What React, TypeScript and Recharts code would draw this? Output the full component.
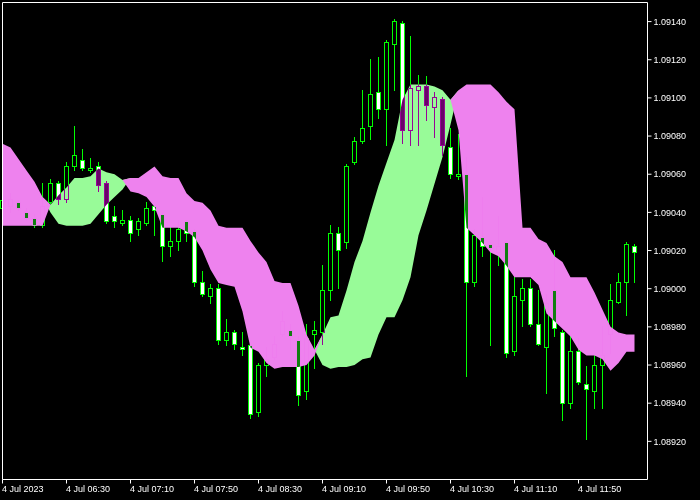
import React from 'react';
import { ComposedChart, Area, Bar, XAxis, YAxis, ReferenceLine } from 'recharts';

const timeLabels = ['4 Jul 2023', '4 Jul 06:30', '4 Jul 07:10', '4 Jul 07:50', '4 Jul 08:30', '4 Jul 09:10', '4 Jul 09:50', '4 Jul 10:30', '4 Jul 11:10', '4 Jul 11:50'];
const labelBars = [0, 8, 16, 24, 32, 40, 48, 56, 64, 72];
const priceTicks = [1.0892, 1.0894, 1.0896, 1.0898, 1.09, 1.0902, 1.0904, 1.0906, 1.0908, 1.091, 1.0912, 1.0914];

const opens = [
  1.09042, 1.09043, 1.09045, 1.0904, 1.09037, 1.09033, 1.09045, 1.09055, 1.09047, 1.09064,
  1.09067, 1.09062, 1.09064, 1.09055, 1.09038, 1.09034, 1.09036, 1.09031, 1.09034, 1.09043,
  1.09039, 1.09022, 1.09025, 1.09035, 1.0903, 1.09003, 1.08996, 1.09, 1.08973, 1.08977,
  1.08969, 1.0897, 1.08935, 1.0896, 1.08964, 1.08976, 1.08978, 1.08973, 1.08946, 1.08976,
  1.08977, 1.08999, 1.09029, 1.09024, 1.09066, 1.09077, 1.09085, 1.09103, 1.09094, 1.09128,
  1.09139, 1.09083, 1.09104, 1.09106, 1.09095, 1.09099, 1.09074, 1.09059, 1.0906, 1.09003,
  1.09027, 1.09023, 1.09019, 1.09024, 1.08967, 1.08994, 1.09, 1.08981, 1.08969, 1.08999,
  1.08977, 1.0894, 1.08967, 1.0895, 1.08946, 1.0896, 1.08976, 1.08993, 1.09003, 1.09022,
];
const highs = [
  1.09048, 1.0905, 1.09046, 1.09042, 1.09039, 1.09055, 1.09057, 1.09056, 1.09066, 1.09085,
  1.09073, 1.09068, 1.09066, 1.09056, 1.09043, 1.09041, 1.09038, 1.09037, 1.09045, 1.09044,
  1.0904, 1.09032, 1.09036, 1.09036, 1.09031, 1.09009, 1.09002, 1.09002, 1.08984, 1.08978,
  1.08977, 1.08971, 1.08961, 1.08969, 1.08975, 1.08988, 1.08981, 1.08975, 1.08981, 1.08983,
  1.09012, 1.09033, 1.09032, 1.09065, 1.09079, 1.09104, 1.0912, 1.09121, 1.0913, 1.09141,
  1.0914, 1.09132, 1.09112, 1.09111, 1.09103, 1.091, 1.09084, 1.09081, 1.09069, 1.09031,
  1.09048, 1.09024, 1.09038, 1.09025, 1.09006, 1.09005, 1.09005, 1.08999, 1.08997, 1.0902,
  1.08978, 1.08976, 1.08974, 1.08959, 1.08965, 1.0898, 1.09002, 1.09008, 1.09024, 1.09023,
];
const lows = [
  1.0904, 1.0904, 1.09041, 1.09036, 1.09032, 1.09032, 1.09044, 1.09044, 1.09045, 1.09062,
  1.09062, 1.09061, 1.09051, 1.09034, 1.09032, 1.09033, 1.09025, 1.09028, 1.09033, 1.09028,
  1.09014, 1.09017, 1.0902, 1.09025, 1.09001, 1.08996, 1.08992, 1.08971, 1.0897, 1.08968,
  1.08965, 1.08932, 1.08933, 1.08954, 1.08963, 1.08975, 1.08968, 1.08939, 1.08942, 1.08958,
  1.08971, 1.08994, 1.09, 1.09021, 1.09065, 1.09076, 1.09078, 1.09089, 1.09075, 1.09104,
  1.09076, 1.09075, 1.09075, 1.09088, 1.09079, 1.0907, 1.09058, 1.09057, 1.08954, 1.09001,
  1.09017, 1.0897, 1.09012, 1.08964, 1.08965, 1.0898, 1.0898, 1.0897, 1.08945, 1.08975,
  1.08931, 1.08937, 1.0895, 1.08921, 1.08937, 1.08937, 1.08966, 1.08992, 1.08986, 1.09003,
];
const closes = [
  1.09046, 1.09047, 1.09042, 1.09037, 1.09033, 1.09043, 1.09055, 1.09047, 1.09064, 1.0907,
  1.09063, 1.09063, 1.09054, 1.09035, 1.09035, 1.09036, 1.09029, 1.09035, 1.09042, 1.09041,
  1.09022, 1.09025, 1.09031, 1.09029, 1.09003, 1.08997, 1.09, 1.08973, 1.08977, 1.08971,
  1.08968, 1.08934, 1.0896, 1.08963, 1.08971, 1.08983, 1.08975, 1.08944, 1.08974, 1.08978,
  1.08999, 1.09029, 1.0902, 1.09064, 1.09077, 1.09084, 1.09102, 1.09094, 1.09129, 1.0914,
  1.09083, 1.09105, 1.09106, 1.09096, 1.091, 1.09075, 1.0906, 1.0906, 1.09003, 1.09028,
  1.09022, 1.09021, 1.09022, 1.08966, 1.08996, 1.09, 1.08981, 1.08971, 1.08992, 1.08979,
  1.0894, 1.08967, 1.08951, 1.08947, 1.0896, 1.08965, 1.08994, 1.09003, 1.09023, 1.09019,
];
const spanA = [
  1.09033, 1.09033, 1.09033, 1.09033, 1.09033, 1.09033, 1.09044, 1.09049, 1.09053, 1.09058,
  1.09058, 1.09059, 1.09063, 1.09061, 1.0906, 1.09057, 1.09051, 1.0905, 1.09048, 1.09043,
  1.09032, 1.09032, 1.09032, 1.0903, 1.09027, 1.0902, 1.0901, 1.09003, 1.09002, 1.09001,
  1.08988, 1.08969, 1.08967, 1.08961, 1.08958, 1.08959, 1.08959, 1.08959, 1.0896, 1.08965,
  1.08976, 1.08985, 1.08986, 1.08999, 1.09014, 1.09025, 1.0904, 1.09054, 1.09066, 1.09078,
  1.09099, 1.09107, 1.09107, 1.09107, 1.09106, 1.09104, 1.09099, 1.09083, 1.09032, 1.09028,
  1.09024, 1.09019, 1.09017, 1.09012, 1.09006, 1.09006, 1.09006, 1.09002, 1.08987, 1.08983,
  1.08979, 1.08975, 1.08968, 1.08965, 1.08965, 1.08963, 1.08957, 1.08961, 1.08967, 1.08967,
];
const spanB = [
  1.09076, 1.09074, 1.09068, 1.09062, 1.09056, 1.09048, 1.0904, 1.09034, 1.09033, 1.09033,
  1.09033, 1.09034, 1.09039, 1.09044, 1.09048, 1.09052, 1.09058, 1.09058, 1.09061, 1.09064,
  1.09059, 1.09058, 1.09058, 1.0905, 1.09046, 1.09045, 1.09041, 1.09033, 1.09032, 1.09032,
  1.09032, 1.09025, 1.09019, 1.09014, 1.09004, 1.09003, 1.09003, 1.08991, 1.08976, 1.08968,
  1.0896, 1.08958, 1.08959, 1.08959, 1.0896, 1.08963, 1.08964, 1.08976, 1.08985, 1.08985,
  1.08994, 1.09006, 1.09028, 1.09041, 1.09055, 1.09069, 1.09086, 1.09104, 1.09107, 1.09107,
  1.09107, 1.09107, 1.09103, 1.09098, 1.09094, 1.09032, 1.09032, 1.09026, 1.09024, 1.09017,
  1.09014, 1.09006, 1.09006, 1.09006, 1.08998, 1.08989, 1.0898, 1.08977, 1.08976, 1.08976,
];

const data = opens.map((o, i) => ({
  i,
  open: o,
  high: highs[i],
  low: lows[i],
  close: closes[i],
  a: spanA[i],
  b: spanB[i],
}));

const FONT = 'Liberation Sans, Arial, sans-serif';
const GREEN = '#00ff00';

const snap = (v: number) => Math.round(v - 0.5) + 0.5;

const Candle = (props: any) => {
  const { x, y, width, height, payload } = props;
  if (x == null || y == null || !payload) return null;
  const { open, close, high, low } = payload;
  const h = Math.abs(height);
  const top = height >= 0 ? y : y + height;
  const ppu = h / (high - low);
  const py = (v: number) => top + (high - v) * ppu;
  const cx = snap(x + width / 2);
  const bull = close >= open;
  const bt = snap(py(Math.max(open, close)));
  let bb = snap(py(Math.min(open, close)));
  if (bb < bt + 1) bb = bt + 1;
  const yh = snap(py(high));
  const yl = snap(py(low));
  return (
    <g style={{ mixBlendMode: 'difference' }}>
      {yh < bt && <line x1={cx} x2={cx} y1={yh - 0.5} y2={bt} stroke={GREEN} strokeWidth={1} />}
      {yl > bb && <line x1={cx} x2={cx} y1={bb} y2={yl + 0.5} stroke={GREEN} strokeWidth={1} />}
      <rect x={cx - 2} y={bt} width={4} height={bb - bt} fill={bull ? '#000000' : '#ffffff'} stroke={GREEN} strokeWidth={1} />
    </g>
  );
};

const XTick = (props: any) => {
  const { x, y, payload } = props;
  const k = labelBars.indexOf(payload.value);
  return (
    <text x={x - 0.5} y={y + 6} fill="#ffffff" fontSize={9} fontFamily={FONT} textAnchor="start">
      {timeLabels[k]}
    </text>
  );
};

export default function App() {
  return (
    <div style={{ position: 'absolute', left: 0, top: 0, width: 700, height: 500, background: '#000000' }}>
      <ComposedChart width={700} height={500} data={data} margin={{ top: 2.5, right: 0, bottom: 0, left: 2.5 }}>
        <XAxis
          type="number"
          dataKey="i"
          domain={[0, 80.625]}
          ticks={labelBars}
          tick={<XTick />}
          tickSize={4}
          height={20.5}
          stroke="#ffffff"
          axisLine={{ stroke: '#ffffff' }}
          tickLine={{ stroke: '#ffffff' }}
          interval={0}
        />
        <YAxis
          orientation="right"
          type="number"
          domain={[1.089, 1.0915]}
          ticks={priceTicks}
          tickFormatter={(v: number) => v.toFixed(5)}
          tick={{ fill: '#ffffff', fontSize: 9, fontFamily: FONT }}
          tickSize={4}
          width={52.5}
          axisLine={{ stroke: '#ffffff' }}
          tickLine={{ stroke: '#ffffff' }}
          interval={0}
        />
        <Area
          type="linear"
          dataKey={(d: any) => [d.b, Math.max(d.a, d.b)]}
          stroke="none"
          fill="#98fb98"
          fillOpacity={1}
          isAnimationActive={false}
          dot={false}
          activeDot={false}
        />
        <Area
          type="linear"
          dataKey={(d: any) => [d.a, Math.max(d.a, d.b)]}
          stroke="none"
          fill="#ee82ee"
          fillOpacity={1}
          isAnimationActive={false}
          dot={false}
          activeDot={false}
        />
        <Bar
          dataKey={(d: any) => [d.low, d.high]}
          barSize={5}
          shape={(p: any) => <Candle {...p} />}
          isAnimationActive={false}
        />
        <ReferenceLine y={1.0915} stroke="#ffffff" strokeWidth={1} />
        <ReferenceLine x={0} stroke="#ffffff" strokeWidth={1} />
      </ComposedChart>
    </div>
  );
}
